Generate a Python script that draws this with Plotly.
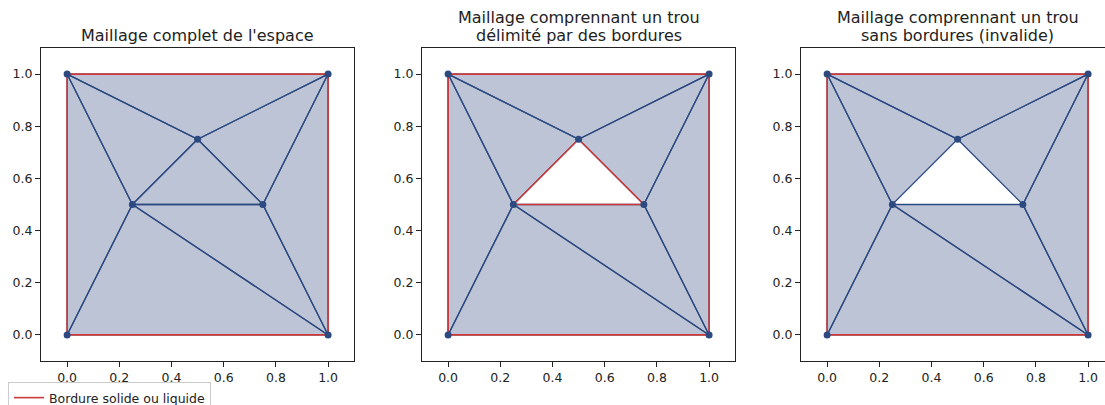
import plotly.graph_objects as go

# ---- data ----
node_x = [0.0, 1.0, 1.0, 0.0, 0.25, 0.5, 0.75]
node_y = [0.0, 0.0, 1.0, 1.0, 0.5, 0.75, 0.5]
triangles_full = [(0, 3, 4), (3, 5, 4), (3, 2, 5), (5, 2, 6), (2, 1, 6), (4, 6, 1), (0, 4, 1), (4, 5, 6)]
triangles_hole = [(0, 3, 4), (3, 5, 4), (3, 2, 5), (5, 2, 6), (2, 1, 6), (4, 6, 1), (0, 4, 1)]
outer_border = [0, 1, 2, 3, 0]
hole_border = [4, 5, 6, 4]
titles = [["Maillage complet de l'espace"],
          ["Maillage comprennant un trou", "délimité par des bordures"],
          ["Maillage comprennant un trou", "sans bordures (invalide)"]]
panels = [
    (triangles_full, [outer_border]),
    (triangles_hole, [outer_border, hole_border]),
    (triangles_hole, [outer_border]),
]
tick_vals = [0.0, 0.2, 0.4, 0.6, 0.8, 1.0]
legend_label = "Bordure solide ou liquide"

# ---- style ----
W, H = 1105, 405
FILL = "rgb(189,196,214)"
BLUE = "#2c4a80"
RED = "#cc3b3b"
FONT = "DejaVu Sans"
px_per_unit = 261
lefts = [41, 422, 801]
top, bottom = 48, 361
title_bottoms = {1: [46], 2: [28, 46]}


def px(x):
    return x / W


def py(y):
    return 1 - y / H


fig = go.Figure()

for i, (tris, borders) in enumerate(panels):
    ax = "" if i == 0 else str(i + 1)
    xs, ys = [], []
    for t in tris:
        for k in list(t) + [t[0]]:
            xs.append(node_x[k]); ys.append(node_y[k])
        xs.append(None); ys.append(None)
    fig.add_trace(go.Scatter(x=xs, y=ys, mode="lines", fill="toself", fillcolor=FILL,
                             line=dict(color=BLUE, width=1.3), showlegend=False,
                             hoverinfo="skip", xaxis="x" + ax, yaxis="y" + ax))
    bx, by = [], []
    for b in borders:
        for k in b:
            bx.append(node_x[k]); by.append(node_y[k])
        bx.append(None); by.append(None)
    fig.add_trace(go.Scatter(x=bx, y=by, mode="lines", line=dict(color=RED, width=1.6),
                             name=legend_label, showlegend=(i == 0),
                             xaxis="x" + ax, yaxis="y" + ax))
    fig.add_trace(go.Scatter(x=node_x, y=node_y, mode="markers",
                             marker=dict(color=BLUE, size=7), showlegend=False,
                             xaxis="x" + ax, yaxis="y" + ax))

    left = lefts[i]
    right = min(left + 313, W)
    xr_end = -0.1 + (right - left) / px_per_unit
    axis_common = dict(showline=True, linecolor="#222", linewidth=1, ticks="outside",
                       ticklen=5, tickcolor="#222", tickvals=tick_vals, tickformat=".1f",
                       showgrid=False, zeroline=False, automargin=False,
                       tickfont=dict(family=FONT, size=12.5, color="#222"))
    fig.layout["xaxis" + ax] = dict(axis_common, domain=[px(left), px(right)],
                                    range=[-0.1, xr_end], mirror=True,
                                    anchor="y" + ax)
    fig.layout["yaxis" + ax] = dict(axis_common, domain=[py(bottom), py(top)],
                                    range=[-0.1, 1.1], mirror=(right < W),
                                    anchor="x" + ax)
    lines = titles[i]
    for line, yb in zip(lines, title_bottoms[len(lines)]):
        fig.add_annotation(text=line, xref="paper", yref="paper",
                           x=px(left + 313 / 2), y=py(yb), xanchor="center", yanchor="bottom",
                           showarrow=False, borderpad=0,
                           font=dict(family=FONT, size=16, color="#222"))

fig.update_layout(
    width=W, height=H,
    margin=dict(l=0, r=0, t=0, b=0, autoexpand=False),
    plot_bgcolor="white", paper_bgcolor="white",
    legend=dict(x=px(8), y=py(382), xanchor="left", yanchor="top",
                bordercolor="#cccccc", borderwidth=1, bgcolor="white",
                font=dict(family=FONT, size=12.5, color="#222"),
                tracegroupgap=0, itemwidth=30),
)

fig.write_html("out.html", config={"displayModeBar": False},
               post_script="document.body.style.margin='0';document.body.style.overflow='hidden';")
